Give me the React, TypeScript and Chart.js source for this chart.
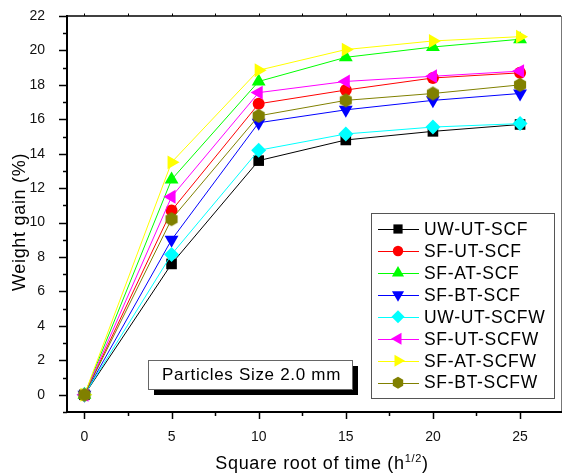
import React, { useEffect, useRef } from "react";
import { Chart, registerables } from "chart.js";

Chart.register(...registerables);

// ---- data ----
const timeRoot = [0, 5, 10, 15, 20, 25];
const seriesNames = [
  "UW-UT-SCF",
  "SF-UT-SCF",
  "SF-AT-SCF",
  "SF-BT-SCF",
  "UW-UT-SCFW",
  "SF-UT-SCFW",
  "SF-AT-SCFW",
  "SF-BT-SCFW",
];
const uwUtScf = [0, 7.6, 13.6, 14.8, 15.3, 15.7];
const sfUtScf = [0, 10.7, 16.9, 17.7, 18.4, 18.7];
const sfAtScf = [0, 12.5, 18.2, 19.6, 20.2, 20.65];
const sfBtScf = [0, 9.0, 15.8, 16.55, 17.1, 17.5];
const uwUtScfw = [0, 8.15, 14.2, 15.15, 15.55, 15.75];
const sfUtScfw = [0, 11.5, 17.55, 18.2, 18.5, 18.8];
const sfAtScfw = [0, 13.5, 18.85, 20.05, 20.55, 20.8];
const sfBtScfw = [0, 10.2, 16.2, 17.1, 17.5, 18.0];
const seriesValues = [uwUtScf, sfUtScf, sfAtScf, sfBtScf, uwUtScfw, sfUtScfw, sfAtScfw, sfBtScfw];
const seriesColors = ["#000000", "#ff0000", "#00ff00", "#0000ff", "#00ffff", "#ff00ff", "#ffff00", "#808000"];
const xTickValues = [0, 5, 10, 15, 20, 25];
const yTickValues = [0, 2, 4, 6, 8, 10, 12, 14, 16, 18, 20, 22];

type Marker = { kind: string; rot: number; r: number; lr: number };
const markers: Marker[] = [
  { kind: "rect", rot: 0, r: 7.5, lr: 6.5 },
  { kind: "circle", rot: 0, r: 6, lr: 5.2 },
  { kind: "triangle", rot: 0, r: 8, lr: 7 },
  { kind: "triangle", rot: 180, r: 8, lr: 7 },
  { kind: "rectRot", rot: 0, r: 7.5, lr: 6.5 },
  { kind: "triangle", rot: -90, r: 8, lr: 7 },
  { kind: "triangle", rot: 90, r: 8, lr: 7 },
  { kind: "hex", rot: 0, r: 7, lr: 6 },
];

function hexPath(ctx: CanvasRenderingContext2D, x: number, y: number, r: number) {
  ctx.beginPath();
  for (let k = 0; k < 6; k++) {
    const a = -Math.PI / 2 + (k * Math.PI) / 3;
    const px = x + r * Math.cos(a);
    const py = y + r * Math.sin(a);
    if (k === 0) ctx.moveTo(px, py);
    else ctx.lineTo(px, py);
  }
  ctx.closePath();
}

function drawMarker(ctx: CanvasRenderingContext2D, m: Marker, x: number, y: number, r: number, color: string) {
  ctx.save();
  ctx.fillStyle = color;
  ctx.beginPath();
  if (m.kind === "rect") {
    const s = r * Math.SQRT1_2;
    ctx.rect(x - s, y - s, 2 * s, 2 * s);
  } else if (m.kind === "circle") {
    ctx.arc(x, y, r, 0, Math.PI * 2);
  } else if (m.kind === "rectRot") {
    ctx.moveTo(x, y - r);
    ctx.lineTo(x + r, y);
    ctx.lineTo(x, y + r);
    ctx.lineTo(x - r, y);
    ctx.closePath();
  } else if (m.kind === "triangle") {
    let a = (m.rot * Math.PI) / 180;
    for (let k = 0; k < 3; k++) {
      const px = x + Math.sin(a) * r;
      const py = y - Math.cos(a) * r;
      if (k === 0) ctx.moveTo(px, py);
      else ctx.lineTo(px, py);
      a += (2 * Math.PI) / 3;
    }
    ctx.closePath();
  } else {
    hexPath(ctx, x, y, r);
  }
  ctx.fill();
  ctx.restore();
}

function makeHexImage(r: number, color: string) {
  const c = document.createElement("canvas");
  const size = Math.ceil(r * 2 + 2);
  c.width = size;
  c.height = size;
  const cx = c.getContext("2d")!;
  cx.fillStyle = color;
  hexPath(cx, size / 2, size / 2, r);
  cx.fill();
  return c;
}

const X_MIN = -1;
const X_MAX = 27.35;
const Y_MIN = -1;
const Y_MAX = 22;

const framePlugin = {
  id: "frame",
  afterDraw(chart: any) {
    const ctx: CanvasRenderingContext2D = chart.ctx;
    const { left, right, top, bottom } = chart.chartArea;
    const xs = chart.scales.x;
    const ys = chart.scales.y;
    ctx.save();
    // frame
    ctx.strokeStyle = "#000";
    ctx.lineWidth = 1.5;
    ctx.beginPath();
    ctx.moveTo(left, top);
    ctx.lineTo(right, top);
    ctx.stroke();
    ctx.strokeStyle = "#777";
    ctx.lineWidth = 1;
    ctx.beginPath();
    ctx.moveTo(right + 0.5, top);
    ctx.lineTo(right + 0.5, bottom);
    ctx.stroke();
    ctx.strokeStyle = "#000";
    ctx.lineWidth = 2;
    ctx.beginPath();
    ctx.moveTo(left, top - 1);
    ctx.lineTo(left, bottom + 1);
    ctx.moveTo(left - 1, bottom);
    ctx.lineTo(right + 1, bottom);
    ctx.stroke();
    // y ticks
    ctx.lineWidth = 1.5;
    for (let v = Y_MIN; v <= Y_MAX; v++) {
      const py = Math.round(ys.getPixelForValue(v)) + 0.5;
      const len = v % 2 === 0 ? 8 : 4;
      ctx.beginPath();
      ctx.moveTo(left - len, py);
      ctx.lineTo(left, py);
      ctx.stroke();
    }
    // x ticks
    for (let v = 0; v <= X_MAX; v += 2.5) {
      const px = Math.round(xs.getPixelForValue(v)) + 0.5;
      const major = v % 5 === 0;
      ctx.beginPath();
      ctx.moveTo(px, bottom);
      ctx.lineTo(px, bottom + (major ? 7 : 4));
      ctx.stroke();
      ctx.lineWidth = 1;
      ctx.beginPath();
      ctx.moveTo(px, top);
      ctx.lineTo(px, top - 2.5);
      ctx.stroke();
      ctx.lineWidth = 1.5;
    }

    // axis titles
    ctx.fillStyle = "#000";
    (ctx as any).letterSpacing = "0.7px";
    ctx.font = "18px Arial, 'Liberation Sans', sans-serif";
    ctx.textBaseline = "alphabetic";
    const t1 = "Square root of time (h";
    const sup = "1/2";
    const t2 = ")";
    const w1 = ctx.measureText(t1).width;
    ctx.font = "11px Arial, 'Liberation Sans', sans-serif";
    const ws = ctx.measureText(sup).width;
    ctx.font = "18px Arial, 'Liberation Sans', sans-serif";
    const w2 = ctx.measureText(t2).width;
    let sx = 322 - (w1 + ws + w2) / 2;
    const by = 469;
    ctx.textAlign = "left";
    ctx.fillText(t1, sx, by);
    sx += w1;
    ctx.font = "11px Arial, 'Liberation Sans', sans-serif";
    ctx.fillText(sup, sx, by - 7);
    sx += ws;
    ctx.font = "18px Arial, 'Liberation Sans', sans-serif";
    ctx.fillText(t2, sx, by);

    ctx.save();
    ctx.translate(20, 222);
    ctx.rotate(-Math.PI / 2);
    ctx.textAlign = "center";
    ctx.textBaseline = "middle";
    ctx.fillText("Weight gain (%)", 0, 0);
    ctx.restore();

    // annotation box
    const ax = 148, ay = 360, aw = 204, ah = 29;
    ctx.fillStyle = "#000";
    ctx.fillRect(ax + 6, ay + 6, aw, ah);
    ctx.fillStyle = "#fff";
    ctx.fillRect(ax, ay, aw, ah);
    ctx.strokeStyle = "#666";
    ctx.lineWidth = 1;
    ctx.strokeRect(ax + 0.5, ay + 0.5, aw, ah);
    ctx.fillStyle = "#000";
    ctx.font = "17px Arial, 'Liberation Sans', sans-serif";
    ctx.textAlign = "left";
    ctx.textBaseline = "middle";
    ctx.fillText("Particles Size 2.0 mm", 162, ay + ah / 2 + 1);

    // legend
    const lx = 371, ly = 213, lw = 183, lh = 185;
    ctx.fillStyle = "#fff";
    ctx.fillRect(lx, ly, lw, lh);
    ctx.strokeStyle = "#555";
    ctx.lineWidth = 1;
    ctx.strokeRect(lx + 0.5, ly + 0.5, lw, lh);
    for (let i = 0; i < seriesNames.length; i++) {
      const ry = 229 + i * 21.95;
      ctx.strokeStyle = seriesColors[i];
      ctx.lineWidth = 1;
      ctx.beginPath();
      ctx.moveTo(378, Math.round(ry) + 0.5);
      ctx.lineTo(419, Math.round(ry) + 0.5);
      ctx.stroke();
      drawMarker(ctx, markers[i], 398, ry, markers[i].lr, seriesColors[i]);
      ctx.fillStyle = "#000";
      ctx.font = "17.5px Arial, 'Liberation Sans', sans-serif";
      ctx.textAlign = "left";
      ctx.textBaseline = "middle";
      ctx.fillText(seriesNames[i], 424, ry + 1);
    }
    ctx.restore();
  },
};

function zeroPad(s: any) {
  s.paddingTop = 0;
  s.paddingBottom = 0;
  s.paddingLeft = 0;
  s.paddingRight = 0;
}

export default function App() {
  const ref = useRef<HTMLCanvasElement>(null);
  useEffect(() => {
    const canvas = ref.current!;
    const hexImg = makeHexImage(7, seriesColors[7]);
    const datasets = seriesNames.map((name, i) => {
      const m = markers[i];
      return {
        label: name,
        data: timeRoot.map((t, j) => ({ x: t, y: seriesValues[i][j] })),
        borderColor: seriesColors[i],
        backgroundColor: seriesColors[i],
        borderWidth: 1,
        pointStyle: m.kind === "hex" ? hexImg : m.kind,
        rotation: m.rot,
        pointRadius: m.r,
        pointBorderWidth: 0,
        pointBackgroundColor: seriesColors[i],
        pointBorderColor: seriesColors[i],
        tension: 0,
        order: seriesNames.length - i,
      };
    });
    const chart = new Chart(canvas, {
      type: "line",
      data: { datasets },
      options: {
        animation: false,
        responsive: false,
        devicePixelRatio: 1,
        layout: { autoPadding: false, padding: { left: 0, right: 2, top: 16, bottom: 0 } },
        plugins: { legend: { display: false }, tooltip: { enabled: false } },
        scales: {
          x: {
            type: "linear",
            min: X_MIN,
            max: X_MAX,
            grid: { display: false },
            border: { display: false },
            afterBuildTicks: (s: any) => {
              s.ticks = xTickValues.map((v) => ({ value: v }));
            },
            afterFit: (s: any) => {
              s.height = 61;
              zeroPad(s);
            },
            ticks: {
              padding: 9,
              maxRotation: 0,
              color: "#111",
              font: { family: "Arial, 'Liberation Sans', sans-serif", size: 14 },
            },
          },
          y: {
            type: "linear",
            min: Y_MIN,
            max: Y_MAX,
            grid: { display: false },
            border: { display: false },
            afterBuildTicks: (s: any) => {
              s.ticks = yTickValues.map((v) => ({ value: v }));
            },
            afterFit: (s: any) => {
              s.width = 67;
              zeroPad(s);
            },
            ticks: {
              padding: 14,
              color: "#111",
              font: { family: "Arial, 'Liberation Sans', sans-serif", size: 14 },
            },
          },
        },
      } as any,
      plugins: [framePlugin],
    });
    return () => chart.destroy();
  }, []);
  return (
    <div style={{ position: "fixed", left: 0, top: 0, width: 563, height: 473, background: "#fff" }}>
      <canvas ref={ref} width={563} height={473} style={{ width: 563, height: 473, display: "block" }} />
    </div>
  );
}
